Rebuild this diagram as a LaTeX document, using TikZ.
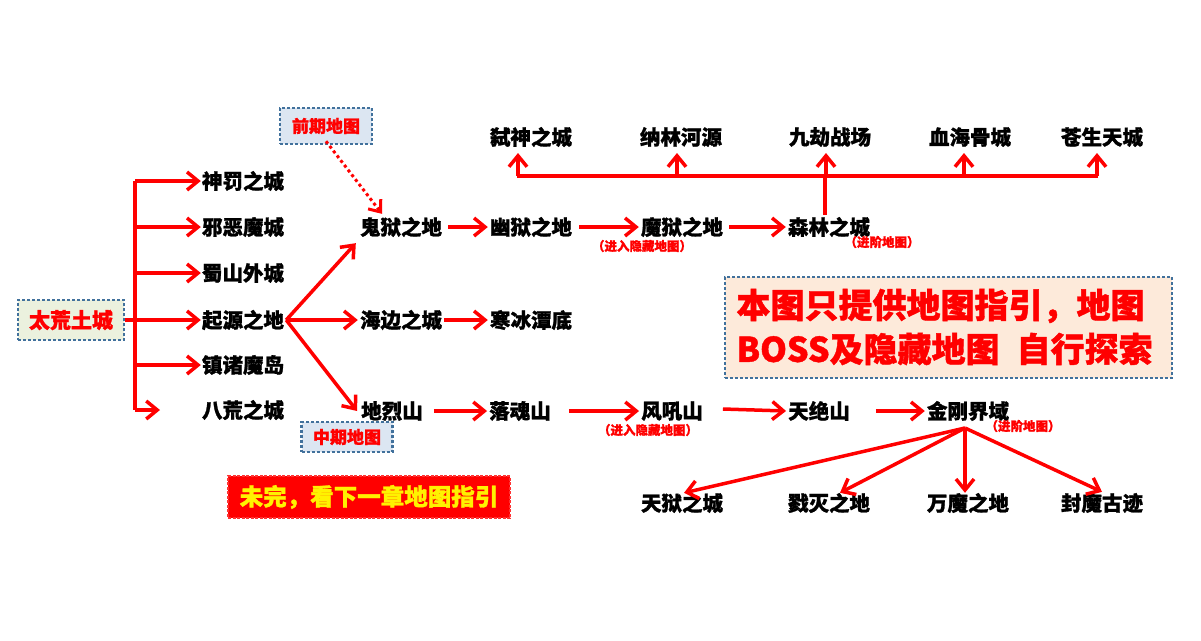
\documentclass[tikz,border=0pt]{standalone}
\usepackage{fontspec}
\setmainfont{Noto Sans CJK SC}
\newfontfamily\cjk{Noto Sans CJK SC}[BoldFeatures={FakeBold=1.2}]
\usetikzlibrary{arrows.meta}
\definecolor{boxline}{HTML}{41719C}
\definecolor{greenbg}{HTML}{EBF1DE}
\definecolor{bluebg}{HTML}{DCE6F2}
\definecolor{peachbg}{HTML}{FDEADA}
\tikzset{
  lbl/.style={font=\cjk\bfseries\fontsize{20.5}{21}\selectfont, inner sep=2pt},
  note/.style={font=\cjk\bfseries\fontsize{12.5}{13}\selectfont, text=red},
  arr/.style={draw=red, line width=3.5pt, -{Straight Barb[length=11pt,width=18pt,line width=3.5pt]}},
  bar/.style={draw=red, line width=3.5pt},
  tagbox/.style={draw=boxline, line width=2.5pt, dash pattern=on 3pt off 2pt, text=red,
    font=\cjk\bfseries\fontsize{17}{18}\selectfont, inner sep=0pt}
}
\begin{document}
\begin{tikzpicture}[x=1pt,y=-1pt]
  \useasboundingbox (0,0) rectangle (1201,640);
  % left side
  \node[tagbox, fill=greenbg, minimum width=106pt, minimum height=40pt,
        font=\cjk\bfseries\fontsize{21}{22}\selectfont] (tl) at (71,320) {太荒土城};
  \coordinate (t1) at (135,181);
  \coordinate (t6) at (135,410);
  \draw[bar] (t1) -- (t6);
  \draw[bar] (tl.east) -- (135,320);
  \foreach \n/\t/\y in {sf/神罚之城/181, xe/邪恶魔城/227, ss/蜀山外城/273, qy/起源之地/320, zz/镇诸魔岛/365, bh/八荒之城/410}
    \node[lbl] (\n) at (243,\y) {\t};
  \foreach \n in {sf,xe,ss,qy,zz}
    \draw[arr] (t1 |- \n.west) -- ([xshift=1pt]\n.west);
  \coordinate (bhend) at (160,410);
  \draw[arr] (t6) -- (bhend);
  % middle
  \node[lbl] (gy) at (401,227) {鬼狱之地};
  \node[lbl] (hb) at (401,320) {海边之城};
  \node[lbl] (dl) at (392,411) {地烈山};
  \node[lbl] (hd) at (531,320) {寒冰潭底};
  \draw[arr] (qy.east) -- ([xshift=-2pt,yshift=-4pt]gy.south west);
  \draw[arr] (qy.east) -- (hb.west);
  \draw[arr] (qy.east) -- ([xshift=-2pt]dl.west);
  \draw[arr] (hb.east) -- (hd.west);
  \node[tagbox, fill=bluebg, minimum width=92pt, minimum height=36pt] (qq) at (326,126) {前期地图};
  \node[tagbox, fill=bluebg, minimum width=91pt, minimum height=30pt] (zq) at (347,437) {中期地图};
  \draw[red, line width=3pt, dash pattern=on 3pt off 3pt, -{Straight Barb[length=10pt,width=16pt,line width=3pt]}]
    ([yshift=4pt]qq.south) -- ([xshift=-19pt,yshift=1pt]gy.north);
  % upper chain
  \node[lbl] (yy) at (531,227) {幽狱之地};
  \node[lbl] (my) at (682,227) {魔狱之地};
  \node[lbl] (sl) at (829,227) {森林之城};
  \draw[arr] ([xshift=4pt]gy.east) -- (yy.west);
  \draw[arr] ([xshift=5pt]yy.east) -- (my.west);
  \draw[arr] ([xshift=4pt]my.east) -- (sl.west);
  \node[note] (n1) at (642,246) {（进入隐藏地图）};
  \node[note] (n2) at (882,242) {（进阶地图）};
  \foreach \n/\t/\x/\a in {ss1/弑神之城/531/518, nl/纳林河源/681/677, jj/九劫战场/830/826, xh/血海骨城/970/964, cs/苍生天城/1102/1097} {
    \node[lbl] (\n) at (\x,137) {\t};
    \draw[arr] (\a,176) -- (\a,153);
  }
  \coordinate (bl) at (517,176);
  \coordinate (br) at (1098,176);
  \draw[bar] (bl) -- (br);
  \draw[bar] ([xshift=-4pt]sl.north) -- ([xshift=-4pt]sl.north |- bl);
  % lower chain
  \node[lbl] (lh) at (520,411) {落魂山};
  \node[lbl] (fh) at (672,411) {风吼山};
  \node[lbl] (tj) at (819,411) {天绝山};
  \node[lbl] (jg) at (968,411) {金刚界域};
  \draw[arr] ([xshift=9pt]dl.east) -- (lh.west);
  \draw[arr] ([xshift=16pt]lh.east) -- (fh.west);
  \draw[arr] ([xshift=18pt,yshift=2pt]fh.east) -- (tj.west);
  \draw[arr] ([xshift=24pt]tj.east) -- (jg.west);
  \node[note] (n3) at (648,430) {（进入隐藏地图）};
  \node[note] (n4) at (1023,426) {（进阶地图）};
  \coordinate (jf) at (965,428);
  \foreach \n/\t/\x in {ty/天狱之城/682, lm/戮灭之地/829, wm/万魔之地/968, fm/封魔古迹/1102}
    \node[lbl] (\n) at (\x,503) {\t};
  \draw[arr] (jf) -- ([xshift=2pt,yshift=-2pt]ty.north);
  \draw[arr] (jf) -- ([xshift=11pt,yshift=-2pt]lm.north);
  \draw[arr] (jf) -- ([xshift=-3pt,yshift=-2pt]wm.north);
  \draw[arr] (jf) -- ([yshift=-1pt]fm.north);
  % boxes with text
  \node[tagbox, fill=peachbg, minimum width=447pt, minimum height=101pt] (nb) at (948.5,327.5) {};
  \node[font=\cjk\bfseries\fontsize{34}{44}\selectfont, text=red, align=left, anchor=west]
    (nt) at (733,327) {本图只提供地图指引，地图\\BOSS及隐藏地图\hspace{0.5em}自行探索};
  \node[fill=red, draw=red!80!white, line width=2pt, dash pattern=on 3pt off 1.5pt,
        minimum width=282pt, minimum height=42pt, text=yellow,
        font=\cjk\bfseries\fontsize{23.5}{25}\selectfont] (wb) at (369,497) {未完，看下一章地图指引};
\end{tikzpicture}
\end{document}
